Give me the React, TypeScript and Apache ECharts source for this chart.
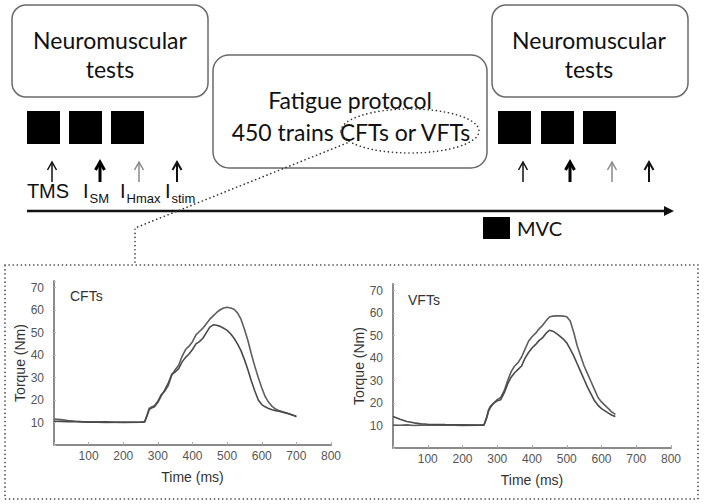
import React, { useEffect, useRef } from "react";
import * as echarts from "echarts";

// ---- CFTs panel ----
const CFT_TIME = [0, 20, 40, 60, 80, 100, 150, 200, 250, 262, 270, 275,
  280, 290, 300, 310, 320, 330, 340, 350, 360, 370,
  380, 390, 400, 410, 420, 430, 440, 450, 460, 470,
  480, 490, 500, 510, 520, 530, 540, 550, 560, 570,
  580, 590, 600, 610, 620, 630, 640, 650, 660, 670,
  680, 690, 700];
const CFT_HIGH = [11.6, 11.3, 10.9, 10.6, 10.4, 10.3, 10.0, 10.2, 10.1, 10.4, 14.0, 16.3,
  16.8, 17.5, 19.5, 22.5, 24.0, 26.5, 31.0, 33.5, 35.5, 39.5,
  42.5, 44.0, 46.0, 49.0, 50.5, 52.0, 54.0, 56.0, 57.5, 59.0,
  60.2, 61.0, 61.3, 61.0, 60.4, 58.8, 56.0, 51.5, 46.5, 40.5,
  35.0, 30.0, 25.5, 21.5, 19.0, 17.2, 16.0, 15.3, 14.8, 14.3,
  13.8, 13.3, 12.6];
const CFT_LOW = [10.6, 10.5, 10.4, 10.4, 10.3, 10.2, 10.3, 10.0, 10.2, 10.3, 13.5, 15.8,
  16.3, 17.0, 19.0, 22.0, 24.5, 27.5, 31.5, 32.5, 34.0, 37.0,
  39.0, 40.5, 42.5, 45.0, 46.0, 47.5, 50.0, 52.5, 53.5, 53.3,
  52.8, 52.0, 51.0, 49.5, 47.5, 45.0, 42.0, 38.0, 33.5, 28.5,
  24.0, 20.0, 18.0, 17.0, 16.2, 15.7, 15.3, 15.0, 14.6, 14.2,
  13.8, 13.2, 12.8];

// ---- VFTs panel ----
const VFT_TIME = [0, 20, 40, 60, 80, 100, 150, 200, 250, 262, 270, 275,
  280, 290, 300, 310, 320, 330, 340, 350, 360, 370,
  380, 390, 400, 410, 420, 430, 440, 450, 460, 470,
  480, 490, 500, 510, 520, 530, 540, 550, 560, 570,
  580, 590, 600, 610, 620, 630, 640];
const VFT_HIGH = [10.2, 10.1, 10.3, 10.0, 10.2, 10.1, 10.3, 10.0, 10.2, 10.3, 14.0, 17.0,
  18.5, 20.0, 21.5, 22.5, 25.5, 30.0, 34.0, 36.5, 38.0, 40.5,
  44.0, 47.5, 49.5, 51.0, 53.0, 54.5, 56.5, 58.3, 58.7, 58.8,
  58.8, 58.7, 58.4, 56.5, 51.5, 45.5, 41.0, 36.5, 33.0, 29.5,
  26.0, 22.5, 20.5, 19.0, 17.5, 16.0, 15.0];
const VFT_LOW = [14.0, 12.8, 11.8, 11.2, 10.8, 10.6, 10.4, 10.3, 10.2, 10.2, 13.5, 16.5,
  18.0, 20.0, 21.0, 21.5, 24.5, 28.5, 31.5, 33.5, 35.0, 36.5,
  40.0, 42.5, 44.5, 46.0, 47.8, 49.0, 51.0, 52.4, 52.0, 51.0,
  49.8, 48.5, 46.8, 44.0, 41.0, 37.5, 34.0, 30.5, 27.0, 24.0,
  21.0, 19.0, 17.5, 16.5, 15.5, 14.6, 14.0];

const PANEL_TITLES = ["CFTs", "VFTs"];
const X_NAME = "Time (ms)";
const Y_NAME = "Torque (Nm)";

const BOX_TITLE_1 = "Neuromuscular";
const BOX_TITLE_2 = "tests";
const FATIGUE_1 = "Fatigue protocol";
const FATIGUE_2 = "450 trains CFTs or VFTs";
const STIM_LABELS = [
  { main: "I", sub: "SM" },
  { main: "I", sub: "Hmax" },
  { main: "I", sub: "stim" },
];

const TXT = "#111";
const SANS = "'Liberation Sans', Arial, sans-serif";
const CAL = "Lato, 'Open Sans', sans-serif";

function txt(text: string, x: number, y: number, size: number, family: string, align = "center", fill = TXT) {
  return {
    type: "text",
    z: 20,
    style: {
      text, x, y, fill,
      font: `${size}px ${family}`,
      align, verticalAlign: "middle",
      textAlign: align, textVerticalAlign: "middle",
    },
  };
}

function arrow(x: number, width: number, color: string) {
  return {
    type: "group",
    z: 20,
    children: [
      { type: "line", shape: { x1: x, y1: 182, x2: x, y2: 163 }, style: { stroke: color, lineWidth: width } },
      {
        type: "polyline",
        shape: { points: [[x - 4.5, 170], [x, 162], [x + 4.5, 170]] },
        style: { stroke: color, lineWidth: width, fill: null, lineJoin: "miter" },
      },
    ],
  };
}

function square(x: number, y: number, w: number, h: number) {
  return { type: "rect", z: 20, shape: { x, y, width: w, height: h }, style: { fill: "#000" } };
}

function roundBox(x: number, y: number, w: number, h: number, r: number) {
  return {
    type: "rect", z: 15,
    shape: { x, y, width: w, height: h, r },
    style: { fill: "#fff", stroke: "#6a6a6a", lineWidth: 1.5 },
  };
}

const DOT = { stroke: "#333", lineWidth: 1.6, lineDash: [0.1, 4], lineCap: "round", fill: null };

function buildGraphic() {
  const g: any[] = [];
  g.push(roundBox(12, 5, 196, 92, 14));
  g.push(roundBox(492, 5, 196, 92, 14));
  g.push(roundBox(213, 55, 274, 113, 16));
  g.push(txt(BOX_TITLE_1, 110, 40, 23, CAL));
  g.push(txt(BOX_TITLE_2, 110, 69, 23, CAL));
  g.push(txt(BOX_TITLE_1, 589, 40, 23, CAL));
  g.push(txt(BOX_TITLE_2, 589, 69, 23, CAL));
  g.push(txt(FATIGUE_1, 350, 100, 23, CAL));
  g.push(txt(FATIGUE_2, 351, 132, 23, CAL));
  // squares
  [27, 69, 111, 498, 541, 583].forEach((x) => g.push(square(x, 111, 33, 33)));
  // arrows
  const styles: [number, string][] = [[1.5, "#111"], [3, "#000"], [1.5, "#888"], [2, "#111"]];
  [52, 100, 139, 177].forEach((x, i) => g.push(arrow(x, styles[i][0], styles[i][1])));
  [523, 570, 612, 649].forEach((x, i) => g.push(arrow(x, styles[i][0], styles[i][1])));
  // stimulation labels
  g.push(txt("TMS", 48, 191, 20, SANS));
  const mains = [83, 120, 165];
  STIM_LABELS.forEach((s, i) => {
    g.push(txt(s.main, mains[i], 191, 20, SANS, "left"));
    g.push(txt(s.sub, mains[i] + 6.5, 198, 13, SANS, "left"));
  });
  // timeline
  g.push({ type: "line", z: 20, shape: { x1: 27, y1: 211, x2: 668, y2: 211 }, style: { stroke: "#111", lineWidth: 2.5 } });
  g.push({ type: "polygon", z: 20, shape: { points: [[664, 206], [674, 211], [664, 216]] }, style: { fill: "#111" } });
  // MVC legend
  g.push(square(483, 217, 27, 22));
  g.push(txt("MVC", 517, 228, 20, CAL, "left"));
  // dotted ellipse + connector + frame
  g.push({ type: "ellipse", z: 25, shape: { cx: 410, cy: 131, rx: 69, ry: 22 }, style: DOT });
  g.push({ type: "polyline", z: 25, shape: { points: [[347, 143], [135, 228], [135, 265]] }, style: DOT });
  g.push({ type: "rect", z: 25, shape: { x: 5, y: 265, width: 693, height: 234 }, style: DOT });
  // panel titles
  g.push(txt(PANEL_TITLES[0], 70, 296, 14, SANS, "left", "#333"));
  g.push(txt(PANEL_TITLES[1], 408, 300, 14, SANS, "left", "#333"));
  return g;
}

const AXIS_COLOR = "#8a8a8a";
const LABEL_COLOR = "#555";

function xAxis(gridIndex: number) {
  return {
    type: "value", gridIndex, min: 0, max: 800, interval: 100,
    name: X_NAME, nameLocation: "middle", nameGap: 25,
    nameTextStyle: { color: "#333", fontSize: 14, fontFamily: SANS },
    axisLine: { show: true, lineStyle: { color: AXIS_COLOR, width: 2 } },
    axisTick: { show: true, inside: true, length: 3, lineStyle: { color: "#aaa" } },
    splitLine: { show: false },
    axisLabel: {
      color: LABEL_COLOR, fontSize: 12, fontFamily: SANS, margin: 5,
      formatter: (v: number) => (v === 0 ? "" : String(v)),
    },
  };
}

function yAxis(gridIndex: number) {
  return {
    type: "value", gridIndex, min: 0, max: 73, interval: 10,
    name: Y_NAME, nameLocation: "middle", nameGap: 22, nameRotate: 90,
    nameTextStyle: { color: "#333", fontSize: 14, fontFamily: SANS },
    axisLine: { show: true, lineStyle: { color: AXIS_COLOR, width: 2 } },
    axisTick: { show: true, inside: true, length: 2, lineStyle: { color: "#bbb" } },
    splitLine: { show: false },
    axisLabel: {
      color: LABEL_COLOR, fontSize: 12, fontFamily: SANS, margin: 10,
      formatter: (v: number) => (v > 0 && v % 10 === 0 ? String(v) : ""),
    },
  };
}

function lineSeries(idx: number, time: number[], vals: number[], color: string) {
  return {
    type: "line", xAxisIndex: idx, yAxisIndex: idx,
    data: time.map((t, i) => [t, vals[i]]),
    showSymbol: false, symbol: "none",
    lineStyle: { color, width: 1.6 },
    z: 5,
  };
}

export default function App() {
  const ref = useRef<HTMLDivElement>(null);
  useEffect(() => {
    const chart = echarts.init(ref.current!, null, { renderer: "svg" });
    chart.setOption({
      animation: false,
      backgroundColor: "#fff",
      grid: [
        { left: 54, top: 281, width: 277, height: 164 },
        { left: 393, top: 284, width: 278, height: 164 },
      ],
      xAxis: [xAxis(0), xAxis(1)],
      yAxis: [yAxis(0), yAxis(1)],
      series: [
        lineSeries(0, CFT_TIME, CFT_HIGH, "#5e5e5e"),
        lineSeries(0, CFT_TIME, CFT_LOW, "#4a4a4a"),
        lineSeries(1, VFT_TIME, VFT_HIGH, "#5e5e5e"),
        lineSeries(1, VFT_TIME, VFT_LOW, "#4a4a4a"),
      ],
      graphic: { elements: buildGraphic() },
    });
    return () => chart.dispose();
  }, []);
  return (
    <div
      ref={ref}
      style={{ position: "fixed", left: 0, top: 0, width: 705, height: 504, background: "#fff" }}
    />
  );
}
